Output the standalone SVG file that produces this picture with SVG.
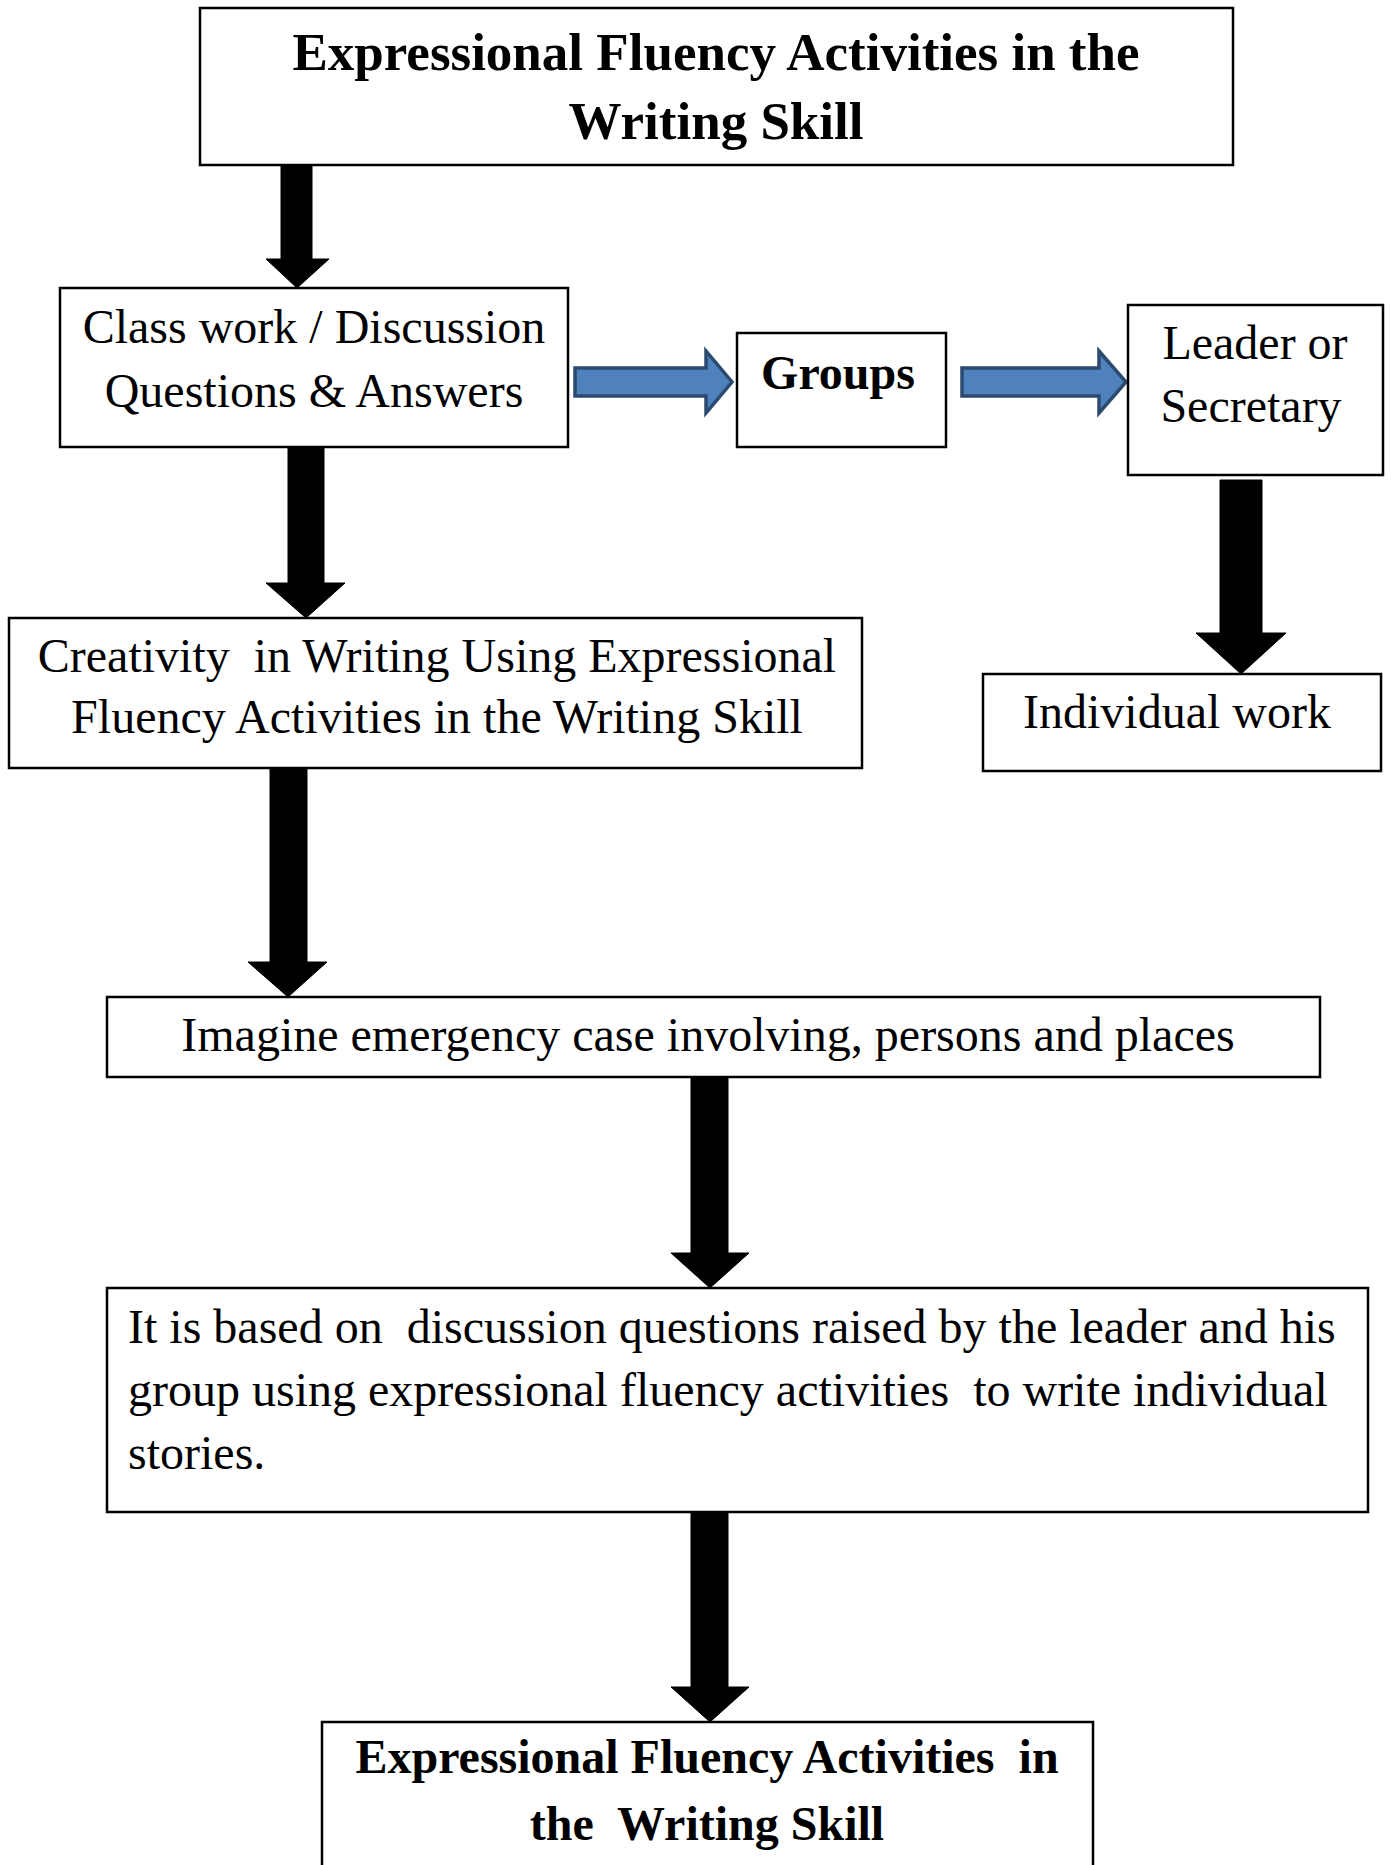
<svg xmlns="http://www.w3.org/2000/svg" width="1391" height="1865" viewBox="0 0 1391 1865">
<style>
.box{fill:#fff;stroke:#000;stroke-width:2.5}
.t{font-family:"Liberation Serif","Times New Roman",serif;font-size:48px;fill:#000;white-space:pre}
.b{font-weight:bold}
.m{text-anchor:middle}
.blk{fill:#000;stroke:#000;stroke-width:1}
.blue{fill:#4F81BD;stroke:#2C4A70;stroke-width:3.5;stroke-linejoin:miter}
</style>
<rect width="1391" height="1865" fill="#fff"/>
<g id="connectors">
<polygon class="blk" points="281,165 312,165 312,259 329,259 297,288 266,259 281,259"/>
<polygon class="blk" points="288,447 324,447 324,583 345,583 306,618 266,583 288,583"/>
<polygon class="blk" points="270,768 307,768 307,962 327,962 288,997 248,962 270,962"/>
<polygon class="blk" points="691,1077 728,1077 728,1253 749,1253 710,1288 671,1253 691,1253"/>
<polygon class="blk" points="691,1512 728,1512 728,1687 749,1687 710,1722 671,1687 691,1687"/>
<polygon class="blk" points="1220,480 1262,480 1262,633 1286,633 1241,674 1196,633 1220,633"/>
<polygon class="blue" points="575,368 706,368 706,351 732,382 706,413 706,396 575,396"/>
<polygon class="blue" points="962,368 1099,368 1099,351 1126,382 1099,413 1099,396 962,396"/>
</g>
<g id="n-title">
<rect class="box" x="200" y="8" width="1033" height="157"/>
<text class="t b m" x="716" y="70" font-size="53" style="font-size:53px">Expressional Fluency Activities in the</text>
<text class="t b m" x="716" y="139" style="font-size:53px">Writing Skill</text>
</g>
<g id="n-classwork">
<rect class="box" x="60" y="288" width="508" height="159"/>
<text class="t m" x="314" y="343">Class work / Discussion</text>
<text class="t m" x="314" y="407">Questions &amp; Answers</text>
</g>
<g id="n-groups">
<rect class="box" x="737" y="333" width="209" height="114"/>
<text class="t b m" x="838" y="389">Groups</text>
</g>
<g id="n-leader">
<rect class="box" x="1128" y="305" width="255" height="170"/>
<text class="t m" x="1255" y="359">Leader or</text>
<text class="t m" x="1251" y="422">Secretary</text>
</g>
<g id="n-individual">
<rect class="box" x="983" y="674" width="398" height="97"/>
<text class="t m" x="1177" y="728">Individual work</text>
</g>
<g id="n-creativity">
<rect class="box" x="9" y="618" width="853" height="150"/>
<text class="t m" x="437" y="672">Creativity  in Writing Using Expressional</text>
<text class="t m" x="437" y="733">Fluency Activities in the Writing Skill</text>
</g>
<g id="n-imagine">
<rect class="box" x="107" y="997" width="1213" height="80"/>
<text class="t m" x="708" y="1051">Imagine emergency case involving, persons and places</text>
</g>
<g id="n-based">
<rect class="box" x="107" y="1288" width="1261" height="224"/>
<text class="t" x="128" y="1343">It is based on  discussion questions raised by the leader and his</text>
<text class="t" x="128" y="1406">group using expressional fluency activities  to write individual</text>
<text class="t" x="128" y="1469">stories.</text>
</g>
<g id="n-final">
<rect class="box" x="322" y="1722" width="771" height="160"/>
<text class="t b m" x="707" y="1773">Expressional Fluency Activities  in</text>
<text class="t b m" x="707" y="1840">the  Writing Skill</text>
</g>
</svg>
